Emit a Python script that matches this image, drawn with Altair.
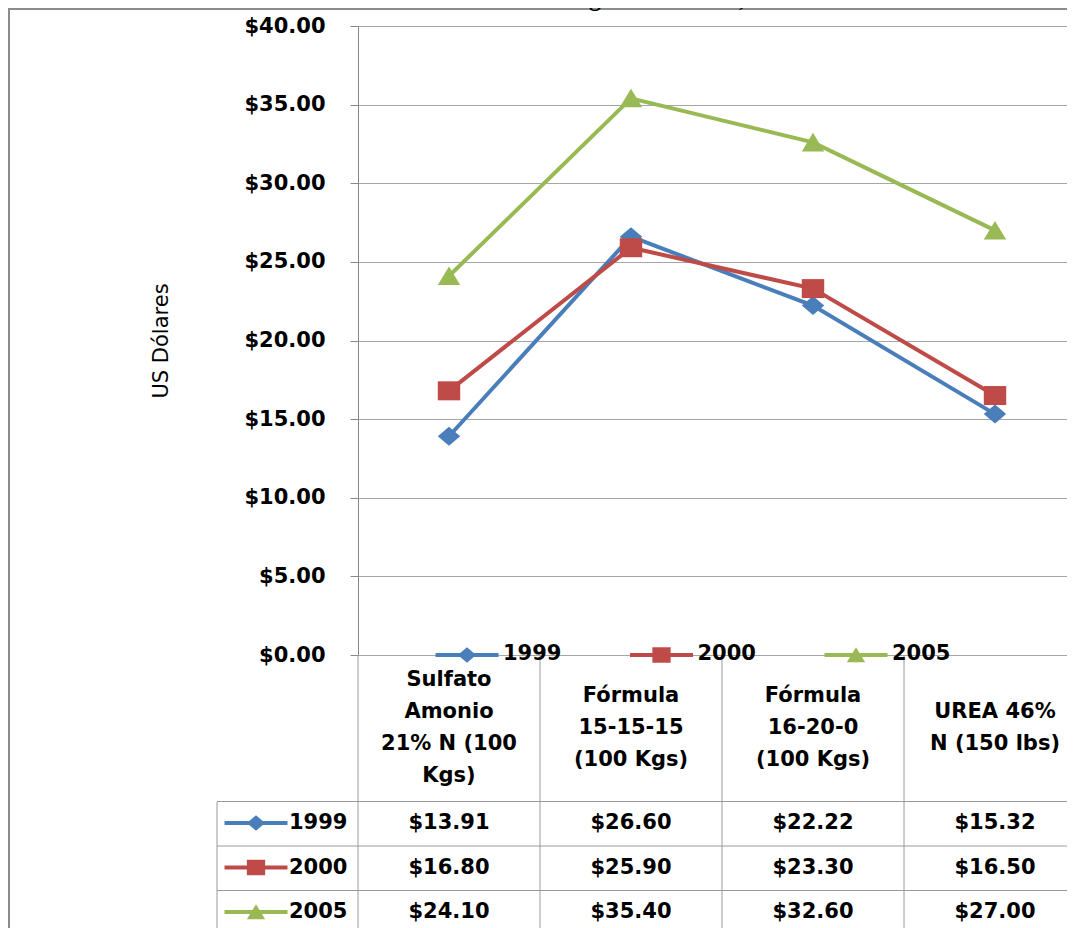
import altair as alt
import pandas as pd

# ---------------- data ----------------
categorias = [
    "Sulfato\nAmonio\n21% N (100\nKgs)",
    "Fórmula\n15-15-15\n(100 Kgs)",
    "Fórmula\n16-20-0\n(100 Kgs)",
    "UREA 46%\nN (150 lbs)",
]
series = ["1999", "2000", "2005"]
precios_1999 = [13.91, 26.60, 22.22, 15.32]
precios_2000 = [16.80, 25.90, 23.30, 16.50]
precios_2005 = [24.10, 35.40, 32.60, 27.00]
colores = ["#4A7EBB", "#BE4B48", "#98B954"]
ticks_y = [0, 5, 10, 15, 20, 25, 30, 35, 40]
titulo = "Gráfico 1. El Salvador: Precios de algunos insumos, 1999-2005"
titulo_eje = "US Dólares"

rows = []
for s, vals in zip(series, [precios_1999, precios_2000, precios_2005]):
    for i, (c, v) in enumerate(zip(categorias, vals)):
        rows.append({"categoria": c, "serie": s, "valor": v, "orden": i})
df = pd.DataFrame(rows)
df_series = pd.DataFrame({"serie": series})
df_cat = pd.DataFrame({"categoria": categorias})
one = pd.DataFrame({"k": [0]})

# header lines of the data table (one row per text line, centred per cell)
head_rows = []
for c in categorias:
    partes = c.split("\n")
    n = len(partes)
    for i, t in enumerate(partes):
        head_rows.append({"categoria": c, "linea": t, "pos": i - (n - 1) / 2})
df_head = pd.DataFrame(head_rows)

# ---------------- layout / style ----------------
W, H = 709, 629
PAD = {"left": 350, "top": 18, "right": 0, "bottom": 273}
FONT = "DejaVu Sans"
FS = 21
LINE_H = 32
HEAD_C = 701.5
GRID = "#a6a6a6"
TABLE = "#9a9a9a"

marker_paths = [
    "M-1.18,0L0,-1L1.18,0L0,1Z",          # diamond
    "M-1.18,-1L1.18,-1L1.18,1L-1.18,1Z",  # square
    "M0,-1L1.18,0.95L-1.18,0.95Z",        # triangle
]
key_line = "M-1,0L1,0"

X_CAT = alt.X("categoria:N", sort=categorias,
              scale=alt.Scale(type="point", domain=categorias, range=[0, 728], padding=0.5),
              axis=None)
Y_AXIS = alt.Axis(values=ticks_y, format="$,.2f", labelFont=FONT, labelFontWeight="bold",
                  labelFontSize=FS, labelColor="black", labelPadding=25, tickSize=8,
                  tickColor="#888888", domainColor="#888888", grid=True, gridColor=GRID,
                  labelOverlap=False, labelFlush=False,
                  title=titulo_eje, titleFont=FONT, titleFontWeight="normal",
                  titleFontSize=FS, titleColor="black", titleX=-197, titleY=314.5,
                  titleAngle=270, titleAlign="center", titleBaseline="middle")
Y_SCALE = alt.Scale(domain=[0, 40], nice=False, zero=True)
COLOR = alt.Color("serie:N", scale=alt.Scale(domain=series, range=colores), legend=None)
SHAPE = alt.Shape("serie:N", scale=alt.Scale(domain=series, range=marker_paths), legend=None)
Y_ROW = alt.Y("serie:N", scale=alt.Scale(type="point", domain=series, range=[797, 886], padding=0),
              axis=None)
X_LEG = alt.X("serie:N", scale=alt.Scale(type="point", domain=series, range=[109, 498], padding=0),
              axis=None)
Y_LINE = alt.Y("pos:Q", scale=alt.Scale(domain=[-1.5, 1.5], nice=False, zero=False,
                                        range=[HEAD_C - 1.5 * LINE_H, HEAD_C + 1.5 * LINE_H]),
               axis=None)

frame = alt.Chart(one).mark_rect(fillOpacity=0, stroke="#8c8c8c", strokeWidth=2).encode(
    x=alt.value(-349), x2=alt.value(W + 60), y=alt.value(-17), y2=alt.value(H + 330))

title = alt.Chart(one).mark_text(font="Liberation Serif", fontWeight="bold", fontSize=24,
                                 align="center", baseline="alphabetic", color="black").encode(
    x=alt.value(178), y=alt.value(-20), text=alt.value(titulo))

vlines = alt.Chart(df_cat).mark_rule(color=TABLE, strokeWidth=1, xOffset=-91).encode(
    x=X_CAT, y=alt.value(H), y2=alt.value(H + 330))

left_border = alt.Chart(one).mark_rule(color=TABLE, strokeWidth=1).encode(
    x=alt.value(-141), y=alt.value(776), y2=alt.value(H + 330))

hlines = alt.Chart(df_series).mark_rule(color=TABLE, strokeWidth=1, yOffset=-21.5).encode(
    y=Y_ROW, x=alt.value(-141), x2=alt.value(W + 60))

lines = alt.Chart(df).mark_line(strokeWidth=4).encode(
    x=X_CAT, y=alt.Y("valor:Q", scale=Y_SCALE, axis=Y_AXIS), color=COLOR,
    order=alt.Order("orden:Q"))

points = alt.Chart(df).mark_point(filled=True, size=361, opacity=1).encode(
    x=X_CAT, y=alt.Y("valor:Q", scale=Y_SCALE, axis=None), color=COLOR, shape=SHAPE)

header = alt.Chart(df_head).mark_text(font=FONT, fontWeight="bold", fontSize=FS, align="center",
                                      baseline="middle", color="black").encode(
    x=X_CAT, y=Y_LINE, text="linea:N")

values_text = alt.Chart(df).mark_text(font=FONT, fontWeight="bold", fontSize=FS, align="center",
                                      baseline="middle", color="black").encode(
    x=X_CAT, y=Y_ROW, text=alt.Text("valor:Q", format="$,.2f"))

key_lines = alt.Chart(df_series).mark_point(shape=key_line, size=3969, strokeWidth=4,
                                            filled=False, opacity=1).encode(
    x=alt.value(-102), y=Y_ROW, color=COLOR)
key_markers = alt.Chart(df_series).mark_point(filled=True, size=240, opacity=1).encode(
    x=alt.value(-102), y=Y_ROW, color=COLOR, shape=SHAPE)
key_labels = alt.Chart(df_series).mark_text(font=FONT, fontWeight="bold", fontSize=FS,
                                            align="left", baseline="middle",
                                            color="black").encode(
    x=alt.value(-69), y=Y_ROW, text="serie:N")

leg_lines = alt.Chart(df_series).mark_point(shape=key_line, size=3969, strokeWidth=4,
                                            filled=False, opacity=1).encode(
    x=X_LEG, y=alt.value(H), color=COLOR)
leg_markers = alt.Chart(df_series).mark_point(filled=True, size=240, opacity=1).encode(
    x=X_LEG, y=alt.value(H), color=COLOR, shape=SHAPE)
leg_labels = alt.Chart(df_series).mark_text(font=FONT, fontWeight="bold", fontSize=FS,
                                            align="left", baseline="middle", dx=36,
                                            color="black").encode(
    x=X_LEG, y=alt.value(H - 1), text="serie:N")

chart = alt.layer(
    frame, vlines, left_border, hlines, lines, points, header, values_text,
    key_lines, key_markers, key_labels, leg_lines, leg_markers, leg_labels, title,
).resolve_scale(
    x="independent", y="independent"
).properties(
    width=W, height=H, padding=PAD, autosize=alt.AutoSizeParams(type="none"),
    background="white",
).configure_view(strokeWidth=0)

chart.save("out.html", embed_options={"renderer": "svg", "actions": False})
